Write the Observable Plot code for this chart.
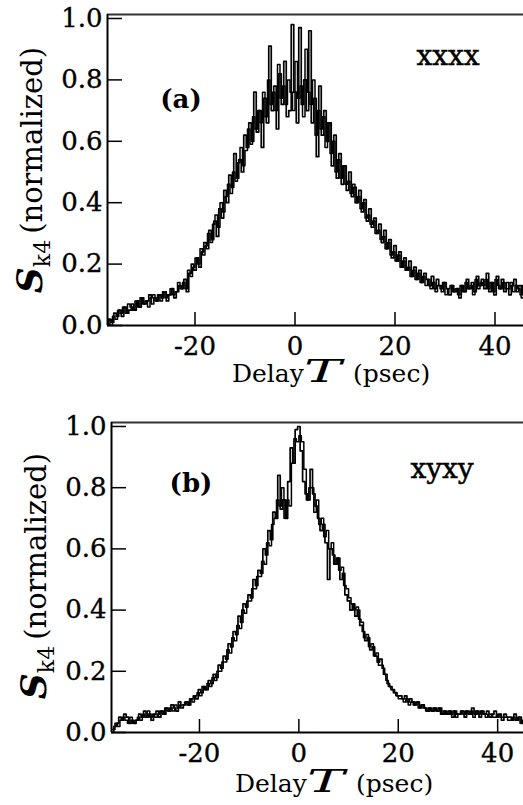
<!DOCTYPE html>
<html><head><meta charset="utf-8">
<script src="https://cdn.jsdelivr.net/npm/d3@7"></script>
<script src="https://cdn.jsdelivr.net/npm/@observablehq/plot@0.6"></script>
<style>
body{margin:0;background:#fff;}
#chart svg{display:block;}
#chart svg g[aria-label="x-axis tick label"] text,
#chart svg g[aria-label="y-axis tick label"] text{font-size:26px !important;font-family:'DejaVu Serif',serif !important;stroke:#000;stroke-width:0.35px;}
</style></head><body><div id="chart"></div>
<script>
// Sampling grid of delay T (psec)
const delay = [
-37.5,-37,-36.5,-36,-35.5,-35,-34.5,-34,-33.5,-33,
-32.5,-32,-31.5,-31,-30.5,-30,-29.5,-29,-28.5,-28,
-27.5,-27,-26.5,-26,-25.5,-25,-24.5,-24,-23.5,-23,
-22.5,-22,-21.5,-21,-20.5,-20,-19.5,-19,-18.5,-18,
-17.5,-17,-16.5,-16,-15.5,-15,-14.5,-14,-13.5,-13,
-12.5,-12,-11.5,-11,-10.5,-10,-9.5,-9,-8.5,-8,
-7.5,-7,-6.5,-6,-5.5,-5,-4.5,-4,-3.5,-3,
-2.5,-2,-1.5,-1,-0.5,0,0.5,1,1.5,2,
2.5,3,3.5,4,4.5,5,5.5,6,6.5,7,
7.5,8,8.5,9,9.5,10,10.5,11,11.5,12,
12.5,13,13.5,14,14.5,15,15.5,16,16.5,17,
17.5,18,18.5,19,19.5,20,20.5,21,21.5,22,
22.5,23,23.5,24,24.5,25,25.5,26,26.5,27,
27.5,28,28.5,29,29.5,30,30.5,31,31.5,32,
32.5,33,33.5,34,34.5,35,35.5,36,36.5,37,
37.5,38,38.5,39,39.5,40,40.5,41,41.5,42,
42.5,43,43.5,44,44.5,45,45.5,46];

// Panel (a): xxxx polarization, normalized S_k4 (two overlapping traces)
const xxxxTrace1 = [
0.00,0.02,0.01,0.04,0.03,0.05,0.03,0.06,0.04,0.05,
0.07,0.05,0.08,0.06,0.09,0.07,0.08,0.10,0.07,0.09,
0.08,0.10,0.09,0.11,0.08,0.10,0.12,0.09,0.11,0.13,
0.12,0.15,0.11,0.17,0.20,0.18,0.22,0.19,0.24,0.27,
0.25,0.31,0.28,0.34,0.29,0.38,0.35,0.44,0.40,0.49,
0.45,0.56,0.48,0.54,0.50,0.62,0.58,0.66,0.60,0.76,
0.63,0.70,0.58,0.74,0.66,0.91,0.70,0.78,0.64,0.82,
0.72,0.86,0.68,0.70,0.98,0.76,0.66,0.97,0.72,0.80,
0.70,0.96,0.66,0.74,0.55,0.78,0.62,0.70,0.60,0.66,
0.52,0.62,0.48,0.56,0.46,0.52,0.44,0.50,0.42,0.45,
0.40,0.44,0.37,0.41,0.34,0.38,0.32,0.35,0.30,0.33,
0.27,0.31,0.25,0.28,0.22,0.26,0.21,0.24,0.19,0.22,
0.18,0.21,0.16,0.19,0.15,0.18,0.14,0.17,0.15,0.13,
0.16,0.12,0.15,0.13,0.11,0.14,0.12,0.10,0.13,0.11,
0.12,0.09,0.13,0.11,0.15,0.12,0.14,0.11,0.16,0.13,
0.15,0.12,0.17,0.11,0.14,0.10,0.16,0.12,0.15,0.11,
0.14,0.10,0.13,0.15,0.11,0.13,0.09,0.12];
const xxxxTrace2 = [
0.02,0.00,0.03,0.02,0.05,0.04,0.06,0.04,0.07,0.06,
0.05,0.08,0.06,0.09,0.07,0.08,0.06,0.09,0.10,0.08,
0.10,0.08,0.11,0.09,0.10,0.12,0.10,0.11,0.14,0.12,
0.14,0.12,0.18,0.16,0.19,0.22,0.20,0.25,0.23,0.26,
0.30,0.27,0.33,0.36,0.32,0.40,0.37,0.42,0.46,0.43,
0.50,0.47,0.53,0.58,0.52,0.57,0.64,0.59,0.68,0.64,
0.70,0.66,0.76,0.68,0.80,0.72,0.76,0.70,0.85,0.74,
0.78,0.72,0.80,0.76,0.70,0.86,0.74,0.78,0.68,0.90,
0.76,0.72,0.80,0.62,0.70,0.64,0.68,0.58,0.66,0.56,
0.60,0.50,0.54,0.48,0.52,0.46,0.47,0.43,0.46,0.40,
0.42,0.38,0.40,0.35,0.36,0.33,0.34,0.30,0.31,0.28,
0.29,0.25,0.27,0.23,0.24,0.21,0.23,0.19,0.21,0.18,
0.19,0.16,0.18,0.15,0.17,0.14,0.16,0.13,0.15,0.12,
0.14,0.11,0.13,0.12,0.14,0.10,0.12,0.13,0.11,0.12,
0.10,0.13,0.11,0.14,0.12,0.13,0.10,0.15,0.12,0.14,
0.13,0.15,0.12,0.14,0.11,0.15,0.13,0.12,0.14,0.12,
0.12,0.14,0.11,0.13,0.12,0.10,0.13,0.11];

// Panel (b): xyxy polarization, normalized S_k4 (two overlapping traces)
const xyxyTrace1 = [
0.00,0.02,0.03,0.05,0.04,0.06,0.05,0.03,0.04,0.03,
0.04,0.06,0.05,0.07,0.05,0.06,0.04,0.06,0.07,0.05,
0.07,0.06,0.08,0.07,0.09,0.08,0.07,0.10,0.08,0.09,
0.10,0.09,0.11,0.12,0.11,0.14,0.13,0.15,0.14,0.17,
0.16,0.19,0.18,0.22,0.21,0.25,0.24,0.29,0.28,0.33,
0.32,0.38,0.36,0.42,0.41,0.45,0.44,0.50,0.48,0.53,
0.52,0.60,0.58,0.66,0.63,0.72,0.70,0.84,0.73,0.76,
0.70,0.82,0.93,0.88,0.99,1.00,0.92,0.82,0.78,0.76,
0.86,0.78,0.74,0.70,0.66,0.68,0.62,0.50,0.60,0.58,
0.55,0.57,0.50,0.52,0.45,0.43,0.40,0.42,0.38,0.40,
0.35,0.33,0.30,0.31,0.27,0.28,0.25,0.23,0.24,0.21,
0.19,0.16,0.15,0.14,0.13,0.12,0.12,0.11,0.12,0.10,
0.11,0.10,0.09,0.10,0.08,0.09,0.08,0.07,0.08,0.07,
0.08,0.07,0.08,0.06,0.07,0.06,0.07,0.05,0.07,0.06,
0.06,0.07,0.05,0.07,0.06,0.08,0.06,0.07,0.05,0.07,
0.06,0.07,0.05,0.06,0.07,0.05,0.06,0.04,0.06,0.05,
0.05,0.04,0.06,0.04,0.05,0.03,0.05,0.04];
const xyxyTrace2 = [
0.01,0.03,0.02,0.04,0.05,0.04,0.03,0.05,0.03,0.04,
0.05,0.04,0.06,0.05,0.07,0.05,0.06,0.05,0.06,0.07,
0.06,0.08,0.07,0.08,0.07,0.09,0.08,0.09,0.09,0.10,
0.09,0.11,0.10,0.12,0.13,0.12,0.15,0.14,0.16,0.15,
0.18,0.17,0.20,0.20,0.23,0.23,0.27,0.26,0.31,0.30,
0.35,0.34,0.40,0.39,0.43,0.43,0.47,0.47,0.51,0.51,
0.56,0.55,0.62,0.61,0.68,0.70,0.76,0.74,0.80,0.70,
0.76,0.74,0.88,0.96,0.95,0.97,0.95,0.86,0.76,0.80,
0.80,0.72,0.76,0.68,0.70,0.64,0.66,0.60,0.62,0.55,
0.57,0.53,0.54,0.48,0.47,0.44,0.42,0.40,0.41,0.37,
0.36,0.31,0.32,0.28,0.29,0.25,0.26,0.22,0.22,0.19,
0.17,0.15,0.14,0.13,0.12,0.11,0.11,0.10,0.11,0.09,
0.10,0.09,0.10,0.08,0.09,0.08,0.07,0.08,0.07,0.08,
0.07,0.08,0.06,0.07,0.06,0.07,0.06,0.07,0.05,0.06,
0.07,0.06,0.07,0.06,0.07,0.05,0.07,0.06,0.07,0.06,
0.05,0.06,0.06,0.05,0.05,0.06,0.05,0.05,0.05,0.04,
0.04,0.05,0.04,0.05,0.03,0.04,0.04,0.03];

const xTicks = [-20, 0, 20, 40];
const yTicks = [0, 0.2, 0.4, 0.6, 0.8, 1.0];
const panelTags = ["(a)", "(b)"];
const polarizations = ["xxxx", "xyxy"];

const SERIF = "'DejaVu Serif', serif";

function makePanel(cfg) {
  const d1 = delay.map((t, i) => ({t, v: cfg.trace1[i]}));
  const d2 = delay.map((t, i) => ({t, v: cfg.trace2[i]}));
  const yMax = cfg.yMax;
  const plot = Plot.plot({
    width: 523, height: cfg.height,
    marginTop: cfg.mt, marginBottom: cfg.mb, marginLeft: cfg.ml, marginRight: 0,
    x: {domain: cfg.xDomain},
    y: {domain: [0, yMax]},
    style: {fontFamily: SERIF, fontSize: "26px", color: "black", background: "white", overflow: "visible"},
    marks: [
      Plot.line(d2, {x: "t", y: "v", curve: "step-after", stroke: "black", strokeWidth: 1.5, clip: true}),
      Plot.line(d1, {x: "t", y: "v", curve: "step", stroke: "black", strokeWidth: 1.7, clip: true}),
      Plot.ruleY([0], {stroke: "black", strokeWidth: 2}),
      Plot.ruleY([yMax], {stroke: "#333", strokeWidth: 2}),
      Plot.ruleX([cfg.xDomain[0]], {stroke: "black", strokeWidth: 2}),
      Plot.axisX({ticks: xTicks, tickSize: -13, strokeWidth: 1.5, tickFormat: () => "", label: null}),
      Plot.axisX({ticks: xTicks, tickSize: 0, tickPadding: 11, tickFormat: d => String(d), label: null, fontSize: 26}),
      Plot.axisY({ticks: yTicks, tickSize: -15, strokeWidth: 1.5, tickFormat: () => "", label: null}),
      Plot.axisY({ticks: yTicks, tickSize: 0, tickPadding: 5, tickFormat: d => d.toFixed(1), label: null, fontSize: 26})
    ]
  });
  const svg = d3.select(plot);
  // y-axis label: S_k4 (normalized)
  const yl = svg.append("text")
    .attr("transform", `translate(${cfg.ylX},${cfg.ylY}) rotate(-90)`)
    .attr("text-anchor", "middle")
    .attr("font-family", SERIF).attr("fill", "black");
  yl.append("tspan").attr("font-size", 36).attr("font-weight", "bold").attr("font-style", "italic").text("S");
  yl.append("tspan").attr("font-size", 22).attr("dy", 8).text("k4");
  yl.append("tspan").attr("font-size", 29).attr("dy", -8).attr("dx", 6).text("(normalized)");
  // x-axis label: Delay T (psec)
  const xl = svg.append("text")
    .attr("y", cfg.xlY).attr("text-anchor", "start")
    .attr("font-family", SERIF).attr("font-size", 25).attr("fill", "black");
  xl.append("tspan").attr("x", cfg.xlX).text("Delay");
  xl.append("tspan").attr("x", cfg.xlX + 121).text("(psec)");
  svg.append("text")
    .attr("transform", `translate(${cfg.xlX + 72},${cfg.xlY}) scale(1.75,1)`)
    .attr("text-anchor", "start")
    .attr("font-family", SERIF).attr("font-style", "italic").attr("font-size", 32).attr("fill", "black")
    .text("T");
  // panel tag and polarization
  svg.append("text").attr("x", cfg.tagX).attr("y", cfg.tagY).attr("text-anchor", "middle")
    .attr("font-family", SERIF).attr("font-weight", "bold").attr("font-size", 26).attr("fill", "black").text(cfg.tag);
  svg.append("text").attr("x", cfg.polX).attr("y", cfg.polY).attr("text-anchor", "middle")
    .attr("font-family", SERIF).attr("font-size", 28).attr("fill", "black")
    .attr("stroke", "black").attr("stroke-width", 0.5).text(cfg.pol);
  return plot;
}

const chart = document.getElementById("chart");
chart.append(makePanel({
  trace1: xxxxTrace1, trace2: xxxxTrace2, xDomain: [-37.5, 45.7], yMax: 1.013,
  height: 400, mt: 14, mb: 75, ml: 107,
  ylX: 42, ylY: 170, xlX: 232, xlY: 382,
  tag: panelTags[0], tagX: 181, tagY: 108,
  pol: polarizations[0], polX: 448, polY: 65
}));
chart.append(makePanel({
  trace1: xyxyTrace1, trace2: xyxyTrace2, xDomain: [-37.7, 45.2], yMax: 1.013,
  height: 405, mt: 22, mb: 73, ml: 111,
  ylX: 46, ylY: 176, xlX: 235, xlY: 392,
  tag: panelTags[1], tagX: 191, tagY: 92,
  pol: polarizations[1], polX: 442, polY: 78
}));
</script></body></html>
